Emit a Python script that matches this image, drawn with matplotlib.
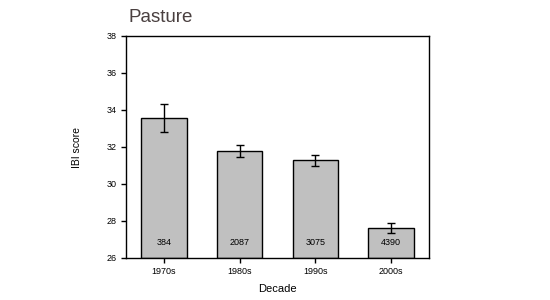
import matplotlib
matplotlib.use("Agg")
import matplotlib.pyplot as plt
import numpy as np

decades = ["1970s", "1980s", "1990s", "2000s"]
ibi_mean = [33.55, 31.77, 31.28, 27.62]
ibi_err = [0.76, 0.33, 0.30, 0.27]
n_sites = [384, 2087, 3075, 4390]

plt.rcParams['font.family'] = ['Liberation Sans', 'DejaVu Sans']

fig = plt.figure(figsize=(5.5, 3.0), dpi=100)
ax = fig.add_axes([126/550, 1 - 258/300, 303/550, 222/300])

x = np.arange(len(decades))
ax.bar(x, [m - 26 for m in ibi_mean], bottom=26, width=0.6,
       color='#c0c0c0', edgecolor='black', linewidth=1.0)
ax.errorbar(x, ibi_mean, yerr=ibi_err, fmt='none', ecolor='black',
            elinewidth=1.0, capsize=3, capthick=1.0)

for xi, n in zip(x, n_sites):
    ax.text(xi, 26.85, str(n), ha='center', va='center', fontsize=6.5)

ax.set_xlim(-0.5, 3.5)
ax.set_ylim(26, 38)
ax.set_yticks(np.arange(26, 39, 2))
ax.set_xticks(x)
ax.set_xticklabels(decades)
ax.tick_params(axis='both', labelsize=6.5, length=3.5, width=1.0, direction='out', pad=3)
for s in ax.spines.values():
    s.set_linewidth(1.0)

ax.set_xlabel('Decade', fontsize=8, labelpad=6)
ax.set_ylabel('IBI score', fontsize=7.5, labelpad=18)

fig.text(128/550, 1 - 18/300, 'Pasture', fontsize=13.5, color='#4a4040',
         ha='left', va='center')

fig.savefig('out.png', dpi=100)
